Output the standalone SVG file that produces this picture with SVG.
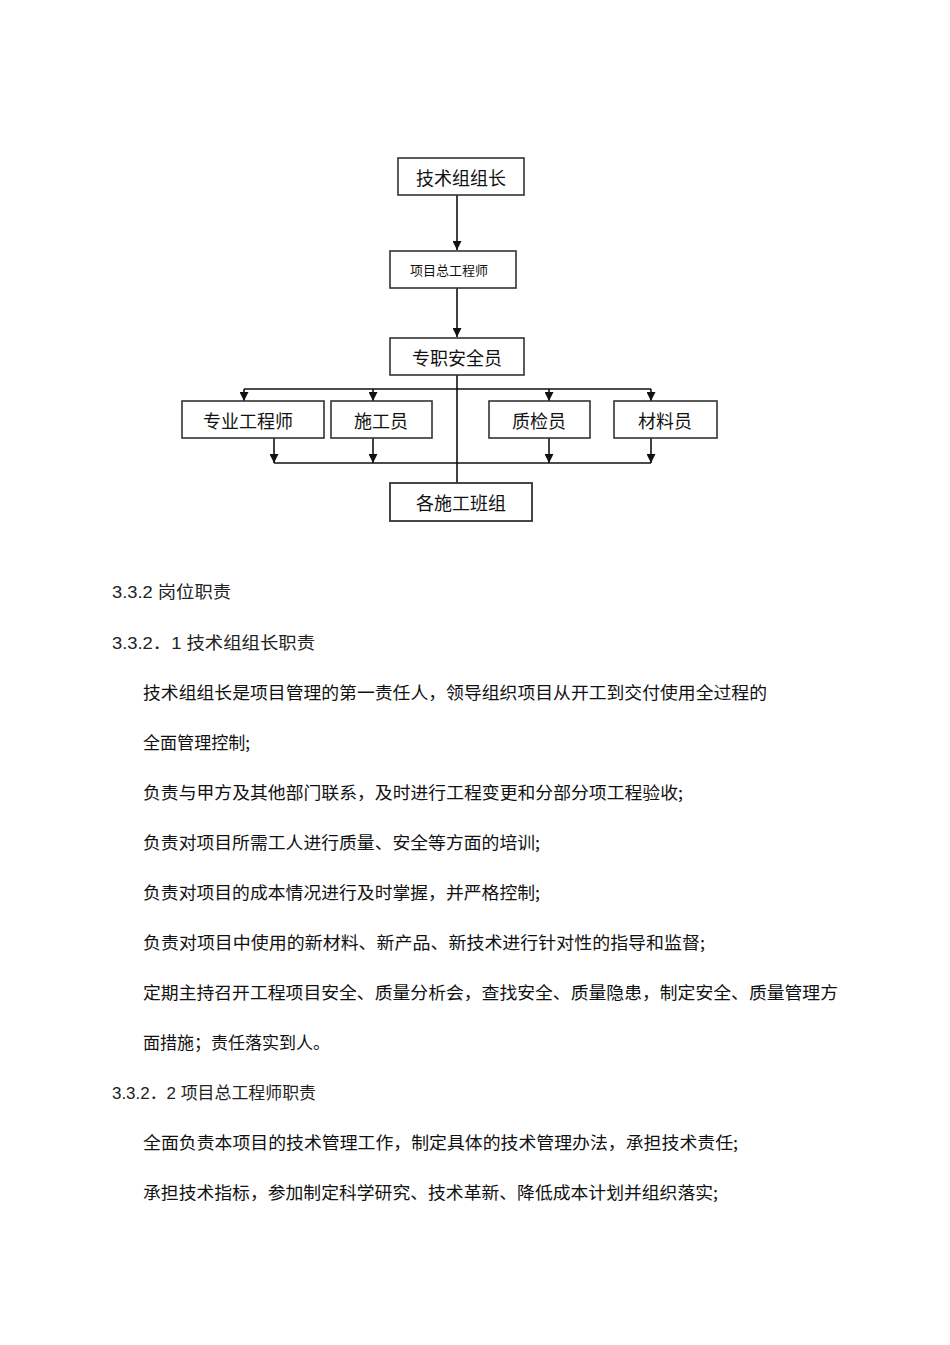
<svg xmlns="http://www.w3.org/2000/svg" width="950" height="1345" viewBox="0 0 950 1345">
<style>
.box{fill:#fff;stroke:#333;stroke-width:1.6}
.bt{font-family:"Noto Sans CJK SC","Noto Sans CJK JP",sans-serif;font-size:18px;fill:#111;text-anchor:middle;dominant-baseline:central}
.st{font-family:"Noto Sans CJK SC",sans-serif;font-size:13px;fill:#111;dominant-baseline:central}
.ln{stroke:#111;stroke-width:1.6;fill:none}
.h{font-family:"Liberation Sans","Noto Sans CJK SC",sans-serif;font-size:16.5px;fill:#222}
.p{font-family:"Noto Sans CJK SC",sans-serif;font-size:17px;fill:#111}
</style>
<defs>
<marker id="ah" viewBox="0 0 10 10" refX="10" refY="5" markerWidth="10" markerHeight="9" markerUnits="userSpaceOnUse" orient="auto">
<path d="M0,0 L10,5 L0,10 z" fill="#111"/>
</marker>
</defs>
<g id="connectors">
<line class="ln" x1="457" y1="195" x2="457" y2="250" marker-end="url(#ah)" stroke-width="2"/>
<line class="ln" x1="457" y1="288" x2="457" y2="337" marker-end="url(#ah)" stroke-width="2"/>
<line class="ln" x1="457" y1="375" x2="457" y2="483"/>
<line class="ln" x1="244" y1="389" x2="651" y2="389"/>
<line class="ln" x1="244" y1="389" x2="244" y2="401" marker-end="url(#ah)"/>
<line class="ln" x1="373" y1="389" x2="373" y2="401" marker-end="url(#ah)"/>
<line class="ln" x1="549" y1="389" x2="549" y2="401" marker-end="url(#ah)"/>
<line class="ln" x1="651" y1="389" x2="651" y2="401" marker-end="url(#ah)"/>
<line class="ln" x1="274" y1="463" x2="651" y2="463"/>
<line class="ln" x1="274" y1="438" x2="274" y2="463" marker-end="url(#ah)"/>
<line class="ln" x1="373" y1="438" x2="373" y2="463" marker-end="url(#ah)"/>
<line class="ln" x1="549" y1="438" x2="549" y2="463" marker-end="url(#ah)"/>
<line class="ln" x1="651" y1="438" x2="651" y2="463" marker-end="url(#ah)"/>
</g>
<g id="n1"><rect class="box" x="398" y="158" width="126" height="37"/><text class="bt" x="461" y="176.5">技术组组长</text></g>
<g id="n2"><rect class="box" x="390" y="251" width="126" height="37"/><text class="st" x="410" y="269.5">项目总工程师</text></g>
<g id="n3"><rect class="box" x="390" y="338" width="134" height="37"/><text class="bt" x="457" y="356.5">专职安全员</text></g>
<g id="n4"><rect class="box" x="182" y="401" width="142" height="37"/><text class="bt" x="248" y="419.5">专业工程师</text></g>
<g id="n5"><rect class="box" x="331" y="401" width="101" height="37"/><text class="bt" x="381" y="419.5">施工员</text></g>
<g id="n6"><rect class="box" x="489" y="401" width="101" height="37"/><text class="bt" x="539" y="419.5">质检员</text></g>
<g id="n7"><rect class="box" x="614" y="401" width="103" height="37"/><text class="bt" x="665" y="419.5">材料员</text></g>
<g id="n8"><rect class="box" x="390" y="483" width="142" height="38" style="stroke-width:1.8"/><text class="bt" x="461" y="502">各施工班组</text></g>
<g id="body">
<text class="h" x="112" y="598" textLength="119" lengthAdjust="spacingAndGlyphs">3.3.2 岗位职责</text>
<text class="h" x="112" y="649" textLength="203" lengthAdjust="spacingAndGlyphs">3.3.2．1 技术组组长职责</text>
<text class="p" x="143" y="699" textLength="624" lengthAdjust="spacingAndGlyphs">技术组组长是项目管理的第一责任人，领导组织项目从开工到交付使用全过程的</text>
<text class="p" x="143" y="749" textLength="107" lengthAdjust="spacingAndGlyphs">全面管理控制;</text>
<text class="p" x="143" y="799" textLength="540" lengthAdjust="spacingAndGlyphs">负责与甲方及其他部门联系，及时进行工程变更和分部分项工程验收;</text>
<text class="p" x="143" y="849" textLength="397" lengthAdjust="spacingAndGlyphs">负责对项目所需工人进行质量、安全等方面的培训;</text>
<text class="p" x="143" y="899" textLength="397" lengthAdjust="spacingAndGlyphs">负责对项目的成本情况进行及时掌握，并严格控制;</text>
<text class="p" x="143" y="949" textLength="562" lengthAdjust="spacingAndGlyphs">负责对项目中使用的新材料、新产品、新技术进行针对性的指导和监督;</text>
<text class="p" x="143" y="999" textLength="695" lengthAdjust="spacingAndGlyphs">定期主持召开工程项目安全、质量分析会，查找安全、质量隐患，制定安全、质量管理方</text>
<text class="p" x="143" y="1049" textLength="187" lengthAdjust="spacingAndGlyphs">面措施；责任落实到人。</text>
<text class="h" x="112" y="1099" textLength="204" lengthAdjust="spacingAndGlyphs">3.3.2．2 项目总工程师职责</text>
<text class="p" x="143" y="1149" textLength="595" lengthAdjust="spacingAndGlyphs">全面负责本项目的技术管理工作，制定具体的技术管理办法，承担技术责任;</text>
<text class="p" x="143" y="1199" textLength="575" lengthAdjust="spacingAndGlyphs">承担技术指标，参加制定科学研究、技术革新、降低成本计划并组织落实;</text>
</g>
</svg>
